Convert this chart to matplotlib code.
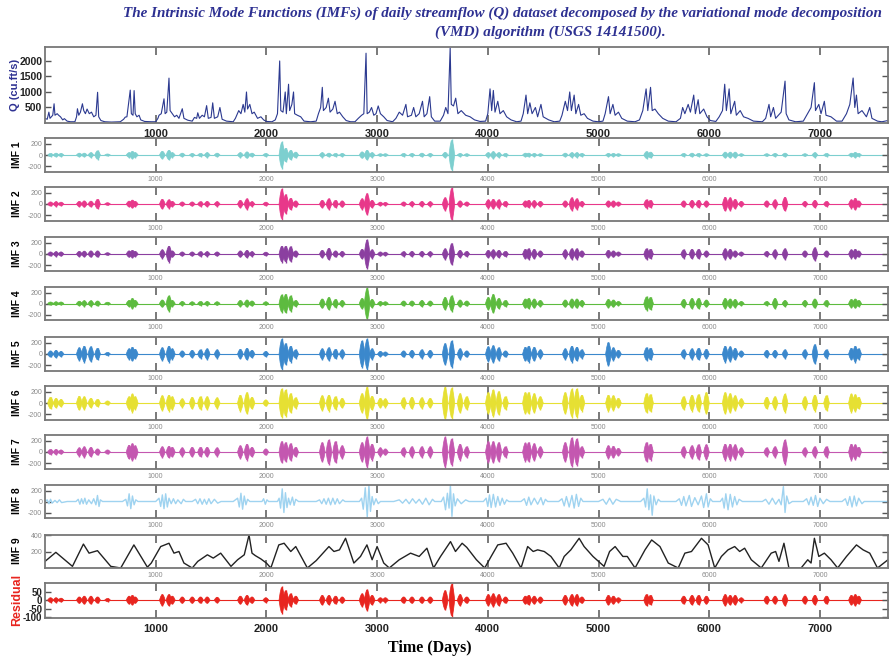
import matplotlib
matplotlib.use("Agg")
import matplotlib.pyplot as plt

plt.rcParams['axes.unicode_minus'] = False
plt.rcParams['font.family'] = 'Liberation Sans'

# ---- data ----
day_ticks = [1000, 2000, 3000, 4000, 5000, 6000, 7000]
n_days = 7615

# daily streamflow, anchor points (day, cu.ft/s)
q_days = [0, 20, 35, 45, 70, 82, 90, 110, 123, 140, 160, 175, 200, 230, 270, 285, 293, 305, 320, 338,
          350, 365, 380, 400, 420, 440, 460, 475, 485, 505, 540, 600, 680, 710, 725, 740, 770, 780, 795, 805,
          815, 830, 850, 865, 900, 960, 1000, 1020, 1030, 1050, 1075, 1085, 1100, 1120, 1130, 1150, 1170, 1190, 1210, 1240,
          1255, 1290, 1330, 1350, 1370, 1380, 1395, 1420, 1440, 1460, 1475, 1500, 1515, 1530, 1560, 1580, 1600, 1640, 1700, 1720,
          1750, 1770, 1790, 1805, 1820, 1830, 1850, 1870, 1890, 1920, 1950, 1975, 2000, 2050, 2080, 2100, 2120, 2130, 2150, 2170,
          2180, 2200, 2210, 2230, 2245, 2255, 2280, 2310, 2340, 2400, 2450, 2470, 2490, 2505, 2515, 2540, 2560, 2575, 2600, 2620,
          2640, 2660, 2690, 2720, 2760, 2800, 2830, 2860, 2880, 2900, 2910, 2930, 2950, 2970, 2990, 3010, 3030, 3060, 3090, 3140,
          3170, 3200, 3230, 3260, 3275, 3310, 3330, 3350, 3380, 3410, 3425, 3450, 3475, 3490, 3520, 3570, 3600, 3620, 3640, 3660,
          3670, 3690, 3710, 3730, 3760, 3800, 3840, 3880, 3930, 3980, 4000, 4020, 4035, 4050, 4065, 4090, 4110, 4140, 4170, 4210,
          4260, 4300, 4320, 4345, 4360, 4380, 4400, 4430, 4450, 4480, 4500, 4550, 4600, 4650, 4670, 4700, 4720, 4740, 4755, 4780,
          4795, 4820, 4840, 4870, 4900, 4950, 5000, 5040, 5060, 5090, 5105, 5130, 5150, 5180, 5210, 5260, 5330, 5370, 5400, 5430,
          5445, 5470, 5485, 5510, 5540, 5580, 5630, 5700, 5740, 5760, 5780, 5810, 5830, 5860, 5875, 5900, 5915, 5950, 5980, 6010,
          6060, 6090, 6120, 6140, 6155, 6180, 6195, 6230, 6245, 6280, 6310, 6350, 6400, 6480, 6510, 6540, 6555, 6580, 6600, 6650,
          6685, 6695, 6720, 6780, 6850, 6880, 6920, 6950, 6960, 6990, 7010, 7040, 7055, 7100, 7150, 7200, 7240, 7270, 7300, 7315,
          7330, 7345, 7380, 7420, 7450, 7470, 7520, 7560, 7615]
q_vals = [150, 120, 350, 150, 250, 620, 250, 300, 250, 200, 100, 140, 60, 40, 40, 200, 460, 250, 350, 620,
          400, 300, 450, 300, 350, 200, 250, 990, 200, 80, 40, 30, 40, 120, 190, 200, 1060, 300, 250, 1045,
          300, 200, 250, 100, 50, 40, 40, 150, 250, 300, 780, 300, 350, 1447, 400, 300, 200, 250, 150, 460,
          150, 90, 60, 180, 150, 330, 150, 250, 200, 560, 150, 180, 650, 150, 200, 500, 120, 60, 40, 150,
          400, 300, 600, 350, 1000, 450, 600, 300, 350, 150, 200, 100, 50, 40, 100, 300, 2000, 400, 350, 1000,
          300, 1250, 400, 600, 1000, 300, 250, 200, 60, 40, 60, 300, 500, 1150, 400, 500, 800, 350, 450, 700,
          300, 350, 200, 80, 40, 40, 150, 250, 300, 2250, 300, 350, 500, 250, 300, 550, 300, 200, 80, 40,
          150, 350, 250, 600, 200, 250, 500, 200, 300, 700, 200, 300, 850, 200, 60, 60, 250, 500, 300, 2420,
          600, 550, 800, 300, 400, 250, 200, 100, 50, 60, 300, 1100, 400, 1050, 350, 700, 300, 400, 200, 100,
          40, 60, 300, 900, 300, 650, 300, 500, 200, 600, 200, 100, 40, 60, 250, 700, 400, 1000, 400, 900,
          300, 600, 250, 300, 150, 60, 40, 60, 300, 850, 300, 600, 250, 350, 150, 60, 40, 100, 400, 1100,
          400, 1150, 400, 450, 300, 150, 60, 40, 150, 500, 300, 600, 350, 900, 300, 750, 300, 450, 200, 80,
          50, 200, 400, 1250, 400, 1100, 300, 700, 250, 400, 200, 150, 60, 40, 150, 600, 200, 500, 150, 350,
          1350, 300, 100, 40, 60, 250, 500, 1300, 400, 600, 300, 700, 250, 200, 60, 60, 300, 600, 1450, 500,
          900, 300, 400, 200, 500, 150, 60, 40, 80]

# oscillation bursts shared by the band-limited modes (day of burst centre)
burst_days = [50, 100, 145, 310, 355, 415, 475, 565, 760, 790, 815, 1060, 1120, 1150, 1240,
              1330, 1405, 1465, 1555, 1765, 1825, 1870, 1995, 2140, 2175, 2220, 2265,
              2505, 2565, 2625, 2685, 2865, 2910, 2955, 3030, 3075, 3240, 3315, 3405, 3480,
              3615, 3675, 3750, 3810, 4005, 4050, 4100, 4160, 4340, 4370, 4420, 4475,
              4700, 4760, 4805, 4850, 5090, 5135, 5180, 5435, 5470, 5770, 5845, 5905, 5975,
              6145, 6190, 6235, 6290, 6520, 6595, 6685, 6865, 6955, 7060, 7285, 7320, 7350]

imf1_amp = [30, 35, 30, 35, 35, 45, 80, 20, 45, 70, 45, 70, 90, 45, 35,
            30, 30, 45, 35, 45, 60, 35, 30, 240, 130, 90, 55,
            45, 35, 30, 30, 60, 90, 45, 25, 25, 30, 30, 35, 30,
            50, 280, 30, 25, 45, 65, 45, 30, 35, 35, 30, 25,
            35, 45, 45, 30, 30, 30, 25, 65, 55, 30, 35, 30, 25,
            55, 55, 55, 25, 25, 30, 35, 25, 45, 30, 35, 50, 30]
imf2_amp = [40, 45, 35, 50, 60, 55, 90, 25, 55, 75, 50, 90, 80, 50, 40,
            40, 45, 50, 45, 70, 100, 45, 35, 280, 180, 110, 60,
            70, 100, 70, 60, 100, 200, 70, 35, 30, 40, 45, 50, 45,
            120, 300, 60, 40, 80, 90, 80, 50, 60, 70, 65, 50,
            60, 120, 100, 50, 60, 60, 40, 80, 70, 60, 70, 70, 60,
            130, 120, 90, 50, 60, 80, 130, 50, 70, 50, 80, 110, 60]
imf3_amp = [40, 45, 40, 50, 55, 60, 60, 25, 60, 70, 50, 80, 150, 60, 40,
            40, 45, 45, 40, 60, 70, 45, 35, 150, 150, 140, 60,
            70, 110, 60, 50, 90, 270, 80, 40, 35, 45, 50, 50, 45,
            100, 200, 70, 50, 70, 80, 70, 50, 90, 100, 90, 60,
            80, 100, 100, 60, 70, 60, 40, 100, 90, 80, 90, 90, 60,
            100, 90, 60, 40, 50, 80, 100, 60, 120, 60, 80, 90, 60]
imf4_amp = [30, 35, 30, 45, 55, 55, 50, 25, 60, 100, 60, 70, 150, 60, 40,
            35, 40, 40, 35, 60, 70, 50, 35, 170, 180, 150, 60,
            90, 120, 80, 60, 100, 300, 80, 40, 35, 50, 50, 60, 50,
            120, 150, 70, 50, 120, 180, 100, 60, 90, 100, 90, 60,
            70, 90, 90, 60, 80, 70, 40, 130, 120, 80, 100, 100, 70,
            100, 90, 80, 40, 40, 100, 60, 60, 90, 60, 80, 90, 60]
imf5_amp = [60, 70, 50, 120, 150, 140, 110, 30, 100, 130, 90, 120, 150, 100, 60,
            70, 80, 100, 80, 90, 110, 70, 50, 280, 200, 150, 80,
            100, 120, 90, 80, 250, 280, 100, 50, 40, 60, 70, 80, 70,
            200, 250, 100, 60, 140, 160, 120, 60, 130, 150, 130, 80,
            100, 150, 130, 80, 220, 120, 70, 120, 110, 80, 100, 110, 90,
            150, 140, 110, 60, 70, 70, 80, 80, 180, 80, 110, 150, 100]
imf6_amp = [110, 90, 70, 130, 120, 90, 70, 40, 120, 170, 120, 140, 150, 120, 80,
            110, 120, 120, 100, 150, 200, 110, 60, 270, 250, 180, 100,
            140, 150, 120, 90, 180, 300, 130, 90, 80, 100, 110, 100, 90,
            300, 280, 180, 120, 200, 250, 220, 120, 200, 200, 180, 120,
            200, 260, 270, 150, 150, 140, 90, 180, 160, 120, 150, 160, 200,
            200, 180, 140, 80, 110, 120, 170, 120, 150, 140, 170, 160, 110]
imf7_amp = [50, 50, 40, 80, 100, 90, 60, 40, 130, 160, 120, 100, 110, 90, 80,
            90, 90, 90, 80, 120, 150, 90, 60, 200, 180, 160, 90,
            180, 230, 200, 120, 180, 280, 150, 80, 60, 80, 100, 100, 100,
            280, 250, 150, 100, 200, 200, 180, 100, 170, 180, 160, 100,
            180, 270, 250, 100, 120, 110, 70, 180, 150, 100, 120, 140, 140,
            150, 150, 140, 80, 80, 100, 230, 80, 100, 100, 150, 140, 90]
resid_amp = [15, 15, 12, 20, 25, 25, 20, 10, 25, 30, 20, 35, 35, 25, 20,
             20, 20, 20, 18, 25, 30, 20, 15, 80, 60, 40, 25,
             30, 30, 25, 20, 40, 65, 30, 15, 15, 20, 20, 20, 20,
             60, 100, 35, 20, 35, 40, 35, 20, 25, 30, 25, 20,
             30, 35, 35, 20, 30, 25, 15, 35, 30, 25, 30, 30, 25,
             35, 30, 30, 15, 25, 25, 35, 25, 30, 25, 30, 35, 25]

# IMF 8: slower oscillation, extremes
imf8_days = [0, 20, 35, 50, 65, 90, 110, 130, 150, 200,
             280, 300, 315, 330, 345, 360, 375, 395, 420, 440, 460, 474, 488, 500, 520,
             700, 730, 745, 760, 775, 790, 805, 820, 840,
             1000, 1030, 1045, 1060, 1075, 1090, 1105, 1120, 1140, 1160, 1180, 1200, 1230, 1250, 1270,
             1330, 1360, 1380, 1400, 1420, 1440, 1460, 1480, 1500, 1530, 1560, 1590,
             1700, 1740, 1755, 1770, 1785, 1800, 1815, 1830, 1850,
             1960, 1975, 1990, 2005, 2020,
             2100, 2115, 2128, 2143, 2158, 2172, 2186, 2200, 2215, 2235, 2250, 2265, 2290,
             2450, 2480, 2500, 2520, 2540, 2560, 2580, 2600, 2620, 2640, 2660, 2690, 2710,
             2840, 2860, 2875, 2893, 2911, 2926, 2940, 2955, 2970, 2990, 3010, 3030,
             3150, 3200, 3230, 3260, 3290, 3320, 3350, 3380, 3410, 3440, 3470, 3500, 3520,
             3580, 3600, 3618, 3635, 3650, 3662, 3676, 3690, 3705, 3725, 3760, 3800, 3830,
             3960, 3985, 4000, 4015, 4030, 4050, 4070, 4090, 4110, 4130, 4150, 4170, 4190,
             4300, 4330, 4350, 4370, 4390, 4420, 4450, 4480, 4500, 4520, 4540,
             4640, 4670, 4690, 4710, 4735, 4760, 4780, 4800, 4820, 4840, 4860,
             5000, 5040, 5070, 5100, 5130, 5160, 5200,
             5380, 5410, 5425, 5440, 5455, 5470, 5485, 5500, 5520, 5540, 5560,
             5700, 5730, 5750, 5770, 5790, 5820, 5840, 5870, 5900, 5930, 5950, 5975, 5990, 6010, 6030,
             6100, 6120, 6135, 6150, 6170, 6190, 6210, 6230, 6250, 6270, 6300,
             6480, 6510, 6540, 6570, 6600, 6630, 6650, 6670, 6685, 6700, 6720, 6750,
             6850, 6880, 6900, 6920, 6940, 6960, 6980, 7000, 7030, 7060, 7090,
             7200, 7230, 7250, 7270, 7290, 7310, 7330, 7350, 7380, 7400, 7615]
imf8_vals = [0, 30, -40, 40, -30, 20, -20, 30, -20, 0,
             0, 40, -50, 50, -40, 60, -50, 30, -40, 50, -60, 110, -90, 30, 0,
             0, 40, -80, 140, -130, 100, -60, 30, 0,
             0, 60, -90, 120, -130, 140, -100, 60, -40, 50, -40, 30, -40, 40, 0,
             0, 40, -40, 50, -50, 40, -50, 50, -40, 40, -30, 0,
             0, 60, -100, 150, -140, 100, -60, 40, 0,
             0, 50, -50, 30, 0,
             0, 60, -120, 230, -200, 160, -110, 60, -60, 80, -70, 40, 0,
             0, 30, -40, 50, -50, 60, -60, 60, -50, 50, -40, 30, 0,
             0, 60, -140, 250, -280, 290, -180, 90, -60, 50, -40, 0,
             0, 30, -30, 40, -40, 50, -30, 40, -50, 60, -60, 40, 0,
             0, 80, -150, 150, -120, 290, -270, 140, -80, 50, -40, 30, 0,
             0, 60, -90, 120, -110, 130, -100, 90, -70, 60, -50, 30, 0,
             0, 50, -70, 80, -60, 60, -50, 70, -60, 40, 0,
             0, 50, -80, 90, -100, 110, -120, 130, -90, 60, 0,
             0, 40, -50, 60, -50, 40, 0,
             0, 60, -100, 230, -150, 120, -250, 100, -60, 40, 0,
             0, 50, -70, 90, -80, 110, -90, 70, -60, 100, -110, 140, -100, 50, 0,
             0, 60, -120, 140, -150, 130, -100, 90, -60, 40, 0,
             0, 40, -50, 60, -50, 40, -60, 270, -200, 100, -40, 0,
             0, 50, -60, 80, -70, 110, -90, 60, -40, 40, 0,
             0, 50, -70, 90, -100, 100, -80, 60, -40, 0, 0]

# IMF 9: slow seasonal component
imf9_days = [0, 98, 248, 347, 398, 474, 594, 684, 803, 925, 960, 1045, 1120, 1165, 1210, 1255, 1330,
             1380, 1467, 1520, 1587, 1680, 1740, 1800, 1843, 1870, 1900, 1950, 2000, 2040,
             2112, 2160, 2220, 2265, 2370, 2450, 2565, 2610, 2660, 2715, 2790, 2850, 2908, 2955,
             3000, 3060, 3110, 3200, 3302, 3380, 3450, 3510, 3573, 3663, 3708, 3768, 3810, 3897, 3972,
             4030, 4090, 4165, 4225, 4300, 4360, 4410, 4450, 4510, 4570, 4645, 4690, 4750, 4825,
             4870, 4950, 5050, 5100, 5150, 5220, 5260, 5330, 5420, 5480, 5555, 5630, 5720,
             5780, 5840, 5930, 5990, 6050, 6110, 6170, 6230, 6275, 6320, 6380, 6470,
             6560, 6600, 6630, 6675, 6720, 6830, 6890, 6920, 6950, 6990, 7040, 7100, 7160,
             7240, 7330, 7390, 7450, 7520, 7615]
imf9_vals = [80, 190, 20, 290, 180, 210, 20, 0, 280, 10, 60, 260, 300, 180, 200, 60, 0,
             80, 160, 120, 180, 20, 100, 160, 400, 180, 150, 110, 60, 0,
             280, 300, 200, 260, 0, 90, 260, 200, 220, 360, 60, 140, 280, 100,
             260, 60, 0, 100, 180, 140, 240, 0, 140, 320, 200, 300, 250, 100, 0,
             140, 280, 300, 180, 0, 260, 200, 220, 200, 140, 0, 140, 220, 360,
             260, 140, 20, 200, 260, 140, 140, 0, 220, 340, 260, 60, 0,
             180, 200, 360, 280, 0, 140, 220, 260, 200, 240, 100, 0,
             180, 200, 80, 300, 0, 0, 100, 60, 360, 140, 180, 100, 0,
             140, 280, 220, 180, 0, 100]

burst_half_width = 26

# ---- figure ----
fig = plt.figure(figsize=(8.91, 6.62), dpi=100)
W, H = 891.0, 662.0


def add_panel(top, bottom):
    return fig.add_axes([45 / W, 1 - bottom / H, 843 / W, (bottom - top) / H])


def frame(ax, ylim, yticks, xlab_big=False, ylab_big=False):
    ax.set_xlim(0, n_days)
    ax.set_ylim(*ylim)
    ax.set_xticks(day_ticks)
    ax.set_yticks(yticks)
    ax.tick_params(axis='x', direction='in', top=True, bottom=True, length=6, width=1.1, color='#555555')
    ax.tick_params(axis='y', direction='in', left=True, right=True, length=4, width=1.0, color='#555555')
    if xlab_big:
        ax.tick_params(axis='x', labelsize=8, labelcolor='#222222', pad=4)
        for t in ax.get_xticklabels():
            t.set_fontweight('bold')
    else:
        ax.tick_params(axis='x', labelsize=5, labelcolor='#8a8a8a', pad=3)
    if ylab_big:
        ax.tick_params(axis='y', labelsize=7.5, labelcolor='#222222', pad=2)
        for t in ax.get_yticklabels():
            t.set_fontweight('bold')
    else:
        ax.tick_params(axis='y', labelsize=5, labelcolor='#8a8a8a', pad=2)
    for s in ax.spines.values():
        s.set_color('#777777')
        s.set_linewidth(1.3)


def bursts(ax, amps, color):
    # each burst drawn as a rounded spindle of width 2*burst_half_width around its centre day
    w = burst_half_width
    ax.axhline(0, color=color, lw=0.8, zorder=1)
    for d, a in zip(burst_days, amps):
        xs = [d - w, d - 0.6 * w, d - 0.2 * w, d + 0.2 * w, d + 0.6 * w, d + w,
              d + 0.6 * w, d + 0.2 * w, d - 0.2 * w, d - 0.6 * w]
        ys = [0, 0.55 * a, 0.9 * a, 0.9 * a, 0.55 * a, 0,
              -0.55 * a, -0.9 * a, -0.9 * a, -0.55 * a]
        ax.fill(xs, ys, color=color, lw=0.5, zorder=2)
        ax.vlines(d, -a, a, color=color, lw=1.0, zorder=2)


# Q panel
ax = add_panel(47, 123)
ax.plot(q_days, q_vals, color='#2b3990', lw=0.8)
frame(ax, (0, 2450), [500, 1000, 1500, 2000], xlab_big=True, ylab_big=True)
fig.text(15 / W, 1 - 85 / H, 'Q (cu.ft/s)', rotation=90, ha='center', va='center',
         color='#2e3192', fontsize=8, fontweight='bold')

panels = [
    ('IMF 1', 138, 172, imf1_amp, '#7dcfcf'),
    ('IMF 2', 187, 221, imf2_amp, '#e8388a'),
    ('IMF 3', 237, 271, imf3_amp, '#8b3fa0'),
    ('IMF 4', 287, 320, imf4_amp, '#5dbb3f'),
    ('IMF 5', 337, 371, imf5_amp, '#3b88cc'),
    ('IMF 6', 386, 420, imf6_amp, '#e6e033'),
    ('IMF 7', 435, 469, imf7_amp, '#c457b0'),
]
for name, top, bottom, amps, color in panels:
    ax = add_panel(top, bottom)
    bursts(ax, amps, color)
    frame(ax, (-300, 300), [-200, 0, 200])
    fig.text(17 / W, 1 - (top + bottom) / 2 / H, name, rotation=90, ha='center', va='center',
             fontsize=7.5, fontweight='bold')

# IMF 8
ax = add_panel(485, 518)
ax.plot(imf8_days, imf8_vals, color='#9fd3f0', lw=1.0)
frame(ax, (-300, 300), [-200, 0, 200])
fig.text(17 / W, 1 - 501 / H, 'IMF 8', rotation=90, ha='center', va='center',
         fontsize=7.5, fontweight='bold')

# IMF 9
ax = add_panel(535, 568)
ax.plot(imf9_days, imf9_vals, color='#222222', lw=1.0)
frame(ax, (0, 400), [200, 400])
fig.text(17 / W, 1 - 551 / H, 'IMF 9', rotation=90, ha='center', va='center',
         fontsize=7.5, fontweight='bold')

# Residual
ax = add_panel(583, 618)
bursts(ax, resid_amp, '#e8251f')
frame(ax, (-105, 100), [-100, -50, 0, 50], xlab_big=True, ylab_big=True)
ax.tick_params(axis='y', labelsize=7)
fig.text(17 / W, 1 - 600 / H, 'Residual', rotation=90, ha='center', va='center',
         color='#e8251f', fontsize=9, fontweight='bold')

# titles
fig.text(502 / W, 1 - 13 / H,
         'The Intrinsic Mode Functions (IMFs) of daily streamflow (Q) dataset decomposed by the variational mode decomposition',
         ha='center', va='center', family='Liberation Serif', style='italic', fontweight='bold',
         fontsize=10.9, color='#2e3192')
fig.text(550 / W, 1 - 32 / H, '(VMD) algorithm (USGS 14141500).',
         ha='center', va='center', family='Liberation Serif', style='italic', fontweight='bold',
         fontsize=10.9, color='#2e3192')
fig.text(430 / W, 1 - 648 / H, 'Time (Days)', ha='center', va='center',
         family='Liberation Serif', fontweight='bold', fontsize=11.5)

fig.savefig('out.png', dpi=100)
